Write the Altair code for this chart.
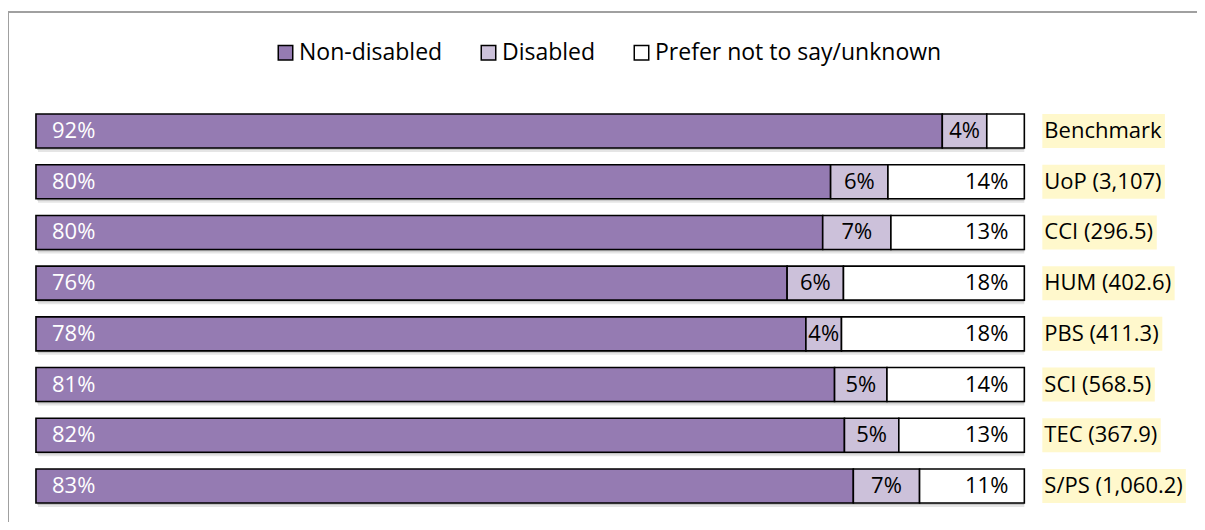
import altair as alt
import pandas as pd

categories = ["Benchmark", "UoP (3,107)", "CCI (296.5)", "HUM (402.6)",
              "PBS (411.3)", "SCI (568.5)", "TEC (367.9)", "S/PS (1,060.2)"]
non_disabled = [91.7, 80.4, 79.6, 76.0, 77.9, 80.8, 81.8, 82.7]
disabled = [4.5, 5.8, 6.9, 5.7, 3.6, 5.3, 5.5, 6.7]
unknown = [3.8, 13.8, 13.5, 18.3, 18.5, 13.9, 12.7, 10.6]
nd_labels = ["92%", "80%", "80%", "76%", "78%", "81%", "82%", "83%"]
dis_labels = ["4%", "6%", "7%", "6%", "4%", "5%", "5%", "7%"]
unk_labels = ["", "14%", "13%", "18%", "18%", "14%", "13%", "11%"]

segments = ["Non-disabled", "Disabled", "Prefer not to say/unknown"]
seg_colors = ["#957BB2", "#CCC1DA", "#FFFFFF"]

FONT = "Open Sans"
FS = 22
W, H = 1189, 510
X_LO, X_HI = -2.83, 117.47
PX = W / (X_HI - X_LO)  # pixels per percent

# approximate Open Sans advance widths (em) to size the label highlight
CW = {' ': 0.26, '(': 0.296, ')': 0.296, ',': 0.245, '.': 0.266, '/': 0.368,
      'B': 0.659, 'C': 0.635, 'H': 0.742, 'I': 0.299, 'M': 0.905, 'P': 0.617,
      'S': 0.544, 'T': 0.556, 'U': 0.734, 'E': 0.556, 'a': 0.556, 'c': 0.477,
      'e': 0.561, 'h': 0.614, 'k': 0.525, 'm': 0.93, 'n': 0.614, 'o': 0.604,
      'r': 0.408}
for d in "0123456789":
    CW[d] = 0.572


def text_px(s):
    return sum(CW.get(ch, 0.55) for ch in s) * FS


rows = []
for i, c in enumerate(categories):
    vals = [non_disabled[i], disabled[i], unknown[i]]
    labs = [nd_labels[i], dis_labels[i], unk_labels[i]]
    s = 0.0
    for seg, v, lab in zip(segments, vals, labs):
        rows.append(dict(cat=c, seg=seg, start=s, end=s + v, mid=s + v / 2, label=lab))
        s += v
seg_df = pd.DataFrame(rows)

cat_df = pd.DataFrame({
    "cat": categories,
    "zero": [0.0] * len(categories),
    "total": [non_disabled[i] + disabled[i] + unknown[i] for i in range(len(categories))],
})
cat_df["hl_start"] = cat_df["total"] + 18 / PX
cat_df["hl_end"] = [t + (20 + text_px(c) + 3) / PX for t, c in zip(cat_df["total"], categories)]

xscale = alt.Scale(domain=[X_LO, X_HI], nice=False, zero=False)
yscale = alt.Scale(range=[102, 491], paddingInner=0.3294, paddingOuter=0)
Y = alt.Y("cat:N", sort=categories, axis=None, scale=yscale)

base_seg = alt.Chart(seg_df)
base_cat = alt.Chart(cat_df)

shadow1 = base_cat.mark_bar(color="#000000", opacity=0.10, yOffset=4, xOffset=2).encode(
    x=alt.X("zero:Q", scale=xscale, axis=None), x2="total:Q", y=Y)
shadow2 = base_cat.mark_bar(color="#000000", opacity=0.15, yOffset=2, xOffset=1).encode(
    x=alt.X("zero:Q", scale=xscale, axis=None), x2="total:Q", y=Y)

bars = base_seg.mark_bar(stroke="#000000", strokeWidth=1.6, opacity=1).encode(
    x=alt.X("start:Q", scale=xscale, axis=None),
    x2="end:Q",
    y=Y,
    color=alt.Color("seg:N", scale=alt.Scale(domain=segments, range=seg_colors),
                    legend=alt.Legend(title=None, orient="none", legendX=266, legendY=29,
                                      direction="horizontal", symbolType="square",
                                      symbolSize=210, symbolStrokeColor="#000000",
                                      symbolStrokeWidth=1.5, symbolOpacity=1,
                                      labelFont=FONT, labelFontSize=23, labelColor="#000000",
                                      labelOffset=2, columnPadding=34, padding=0,
                                      labelLimit=400)),
)

nd_text = alt.Chart(seg_df[seg_df.seg == segments[0]]).mark_text(
    align="left", baseline="middle", dx=16, color="#FFFFFF", font=FONT, fontSize=FS
).encode(x=alt.X("start:Q", scale=xscale, axis=None), y=Y, text="label:N")

dis_text = alt.Chart(seg_df[seg_df.seg == segments[1]]).mark_text(
    align="center", baseline="middle", color="#000000", font=FONT, fontSize=FS
).encode(x=alt.X("mid:Q", scale=xscale, axis=None), y=Y, text="label:N")

unk_text = alt.Chart(seg_df[seg_df.seg == segments[2]]).mark_text(
    align="right", baseline="middle", dx=-16, color="#000000", font=FONT, fontSize=FS
).encode(x=alt.X("end:Q", scale=xscale, axis=None), y=Y, text="label:N")

highlight = base_cat.mark_bar(color="#FFF8CC").encode(
    x=alt.X("hl_start:Q", scale=xscale, axis=None), x2="hl_end:Q", y=Y)

cat_text = base_cat.mark_text(
    align="left", baseline="middle", dx=20, color="#000000", font=FONT, fontSize=FS
).encode(x=alt.X("total:Q", scale=xscale, axis=None), y=Y, text="cat:N")

one = alt.Chart(pd.DataFrame({"k": [0]}))
frame_top = one.mark_rule(color="#A0A0A0", strokeWidth=2).encode(
    x=alt.value(0), x2=alt.value("width"), y=alt.value(0))
frame_left = one.mark_rule(color="#A0A0A0", strokeWidth=2).encode(
    x=alt.value(0), y=alt.value(0), y2=alt.value("height"))

chart = alt.layer(
    frame_top, frame_left, shadow1, shadow2, bars, nd_text, dis_text, unk_text,
    highlight, cat_text
).properties(
    width=W, height=H,
    padding={"left": 0, "top": 4, "right": 0, "bottom": 0},
    autosize=alt.AutoSizeParams(type="none"),
    background="#FFFFFF",
).configure_view(strokeOpacity=0)

chart.save("out.html", embed_options={"renderer": "svg", "actions": False})
